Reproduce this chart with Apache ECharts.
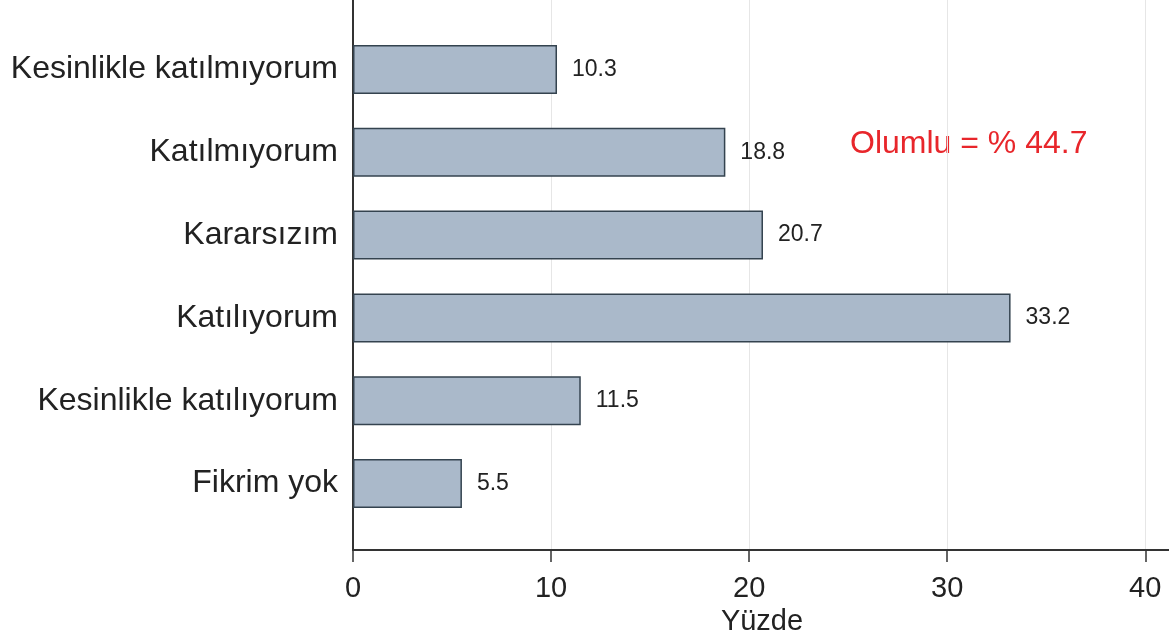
<!DOCTYPE html>
<html>
<head>
<meta charset="utf-8">
<script src="https://cdn.jsdelivr.net/npm/echarts@6/dist/echarts.min.js"></script>
<style>
  html, body { margin: 0; padding: 0; background: #fff; }
  #chart { width: 1169px; height: 639px; }
</style>
</head>
<body>
<div id="chart"></div>
<script>
// answers, top to bottom
const categories = [
  'Kesinlikle katılmıyorum',
  'Katılmıyorum',
  'Kararsızım',
  'Katılıyorum',
  'Kesinlikle katılıyorum',
  'Fikrim yok'
]
const percents = [10.3, 18.8, 20.7, 33.2, 11.5, 5.5]
const xMin = 0
const xMax = 41.3
const xStep = 10
const note = 'Olumlu = % 44.7'

const font = '"Liberation Sans", Arial, sans-serif'
const chart = echarts.init(document.getElementById('chart'))

chart.setOption({
  backgroundColor: '#ffffff',
  animation: false,
  textStyle: { fontFamily: font },
  grid: [
    // axes frame
    { left: 353, right: -2, top: 0, bottom: 89, outerBoundsMode: 'none', containLabel: false },
    // bars
    { left: 353, right: -2, top: 28, height: 497, outerBoundsMode: 'none', containLabel: false }
  ],
  xAxis: [
    {
      gridIndex: 0,
      type: 'value',
      min: xMin,
      max: xMax,
      interval: xStep,
      name: 'Yüzde',
      nameLocation: 'middle',
      nameGap: 53,
      nameTextStyle: { fontSize: 29, color: '#222', fontFamily: font },
      axisLine: { show: true, lineStyle: { color: '#333', width: 2 } },
      axisTick: { show: true, length: 12, lineStyle: { color: '#333', width: 1.5 } },
      axisLabel: {
        fontSize: 29,
        color: '#222',
        margin: 24,
        formatter: function (v) { return v % xStep === 0 ? String(v) : '' }
      },
      splitLine: { show: true, lineStyle: { color: '#e6e6e6', width: 1 } }
    },
    {
      gridIndex: 1,
      type: 'value',
      min: xMin,
      max: xMax,
      show: false
    }
  ],
  yAxis: [
    {
      gridIndex: 0,
      type: 'value',
      min: 0,
      max: 1,
      axisLine: { show: true, lineStyle: { color: '#333', width: 2 } },
      axisTick: { show: false },
      axisLabel: { show: false },
      splitLine: { show: false }
    },
    {
      gridIndex: 1,
      type: 'category',
      inverse: true,
      data: categories,
      axisLine: { show: false },
      axisTick: { show: false },
      axisLabel: { fontSize: 32, color: '#222', margin: 15 }
    }
  ],
  graphic: [
    {
      type: 'text',
      left: 850,
      top: 128,
      style: { text: note, fontSize: 32, fill: '#e8262b', fontFamily: font }
    }
  ],
  series: [
    {
      type: 'bar',
      xAxisIndex: 1,
      yAxisIndex: 1,
      barWidth: 49,
      data: percents,
      itemStyle: {
        color: '#aab9ca',
        borderColor: '#34434f',
        borderWidth: 1.5
      },
      label: {
        show: true,
        position: 'right',
        distance: 15,
        fontSize: 23,
        color: '#222'
      }
    }
  ]
})
</script>
</body>
</html>
